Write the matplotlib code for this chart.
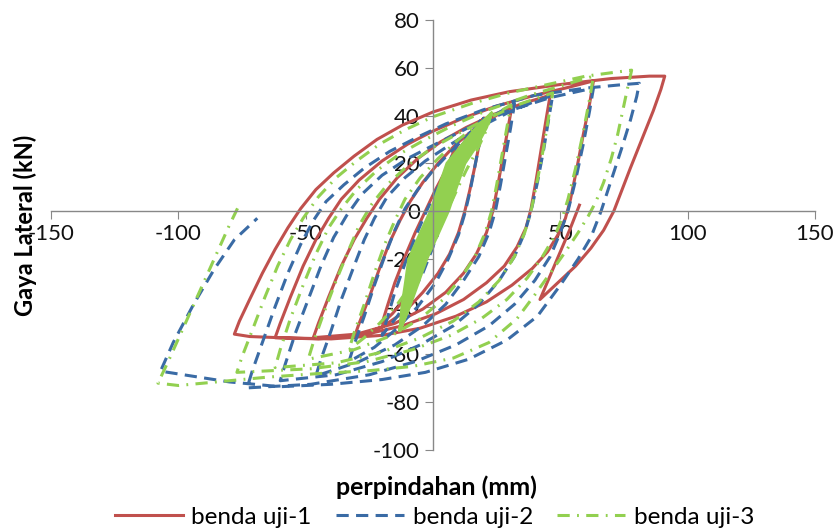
import matplotlib.pyplot as plt

# lateral load (kN) vs displacement (mm), three specimens
uji1 = [
    (0, 0), (-3, -10), (-6, -22), (-10, -36),
    (-8, -29), (-5, -18), (-2, -7), (1, 3), (4, 13), (7, 22), (10, 30),
    (8.5, 22), (6.5, 12), (4.5, 3), (3, -3), (0.5, -12), (-3, -21), (-7, -30), (-12, -38), (-16, -43), (-20, -47),
    (-18, -40), (-15, -30), (-11, -19), (-7, -9), (-3, 0), (1, 9), (6, 19), (11, 27), (16, 34), (20, 39),
    (18.5, 30), (16.5, 19), (14.5, 9), (12.5, 0), (10, -9), (6.5, -18), (2, -26), (-4, -34), (-11, -42), (-20, -48.5), (-31, -53),
    (-29, -47), (-25, -36), (-21, -24), (-17, -13), (-13, -4), (-9, 4), (-4, 12), (2, 20), (9, 28), (17, 35), (24, 39.5), (31, 44),
    (29.5, 35), (27.5, 23), (25.5, 11), (23.5, 0), (21, -9), (17, -18), (12, -26), (5, -34), (-4, -41), (-15, -47), (-30, -51.5), (-47, -53),
    (-45, -47), (-41, -36), (-36, -23), (-31, -12), (-26, -3), (-21, 5), (-14, 14), (-6, 22), (3, 29), (13, 35), (24, 40.5), (35, 45), (46, 48.5),
    (44.5, 39), (42.5, 26), (40.5, 13), (38.5, 1), (36.5, -7), (33, -15), (28, -23), (21, -30), (12, -37), (1, -43), (-12, -48), (-28, -52), (-45, -53.5), (-62, -53),
    (-60, -47), (-56, -36), (-51, -23), (-46, -12), (-41, -3), (-36, 5), (-29, 13), (-20, 21), (-10, 28), (0, 33.5), (12, 39), (25, 44), (40, 48.5), (52, 51.5), (63, 54.5),
    (61.5, 45), (59, 32), (56.5, 18), (54, 5), (52, -3), (49, -10), (45, -17), (39, -24), (31, -31), (21, -38), (9, -44), (-5, -49), (-20, -52), (-40, -53.5), (-60, -53), (-72, -52.5), (-78, -51.5),
    (-76, -46), (-72, -37), (-67, -26), (-62, -16), (-57, -7), (-52, 1), (-46, 9), (-39, 16), (-31, 23), (-22, 30), (-12, 36), (0, 41.5), (15, 46.5), (30, 50), (50, 53), (70, 55.5), (85, 56.5), (91, 56.5),
    (89.5, 51), (86.5, 42), (82, 30), (77.5, 18), (73.5, 7), (71, 0), (67, -8), (62, -15.5), (56, -23), (49, -30), (42, -37),
    (46, -27), (50, -17), (54, -7), (57.5, 2.5),
]

uji2 = [
    (0, 0), (-3, -12), (-6, -25), (-10, -38),
    (-8, -30), (-5, -19), (-2, -8), (1, 3), (4, 13), (7, 22), (10, 30),
    (8.5, 21), (6.5, 11), (4.5, 2), (2.5, -6), (0, -15), (-4, -26), (-9, -36), (-14, -44), (-20, -52),
    (-18, -45), (-15, -34), (-11, -22), (-7, -11), (-3, -1), (1, 8), (6, 18), (11, 27), (16, 34), (20, 40),
    (18.5, 30), (16.5, 19), (14.5, 8), (12.5, -1), (10, -10), (6, -20), (1, -30), (-6, -40), (-14, -49), (-23, -57), (-33, -63),
    (-31, -56), (-27, -44), (-23, -31), (-19, -19), (-15, -8), (-11, 1), (-6, 9), (0, 17), (7, 25), (15, 33), (23, 39.5), (32, 45),
    (30.5, 35), (28.5, 23), (26.5, 11), (24.5, 0), (22, -9), (18, -19), (12, -29), (5, -39), (-4, -48), (-15, -56), (-29, -63), (-46, -69),
    (-44, -62), (-40, -50), (-36, -37), (-31, -23), (-27, -12), (-23, -3), (-18, 6), (-11, 14), (-3, 21), (7, 28), (18, 35), (30, 41.5), (39, 45.5), (47, 48.5),
    (45.5, 39), (43.5, 26), (41, 12), (38.5, 0), (36, -9), (32, -19), (26, -29), (18, -39), (8, -48), (-5, -56), (-20, -63), (-38, -68.5), (-60, -71),
    (-58, -64), (-54, -51), (-49, -37), (-44, -23), (-39, -11), (-34, -2), (-28, 7), (-20, 15), (-10, 22), (0, 27.5), (14, 35), (30, 42), (46, 47.5), (63, 51.5),
    (61.5, 42), (59, 28), (56, 13), (53, 0), (50, -9), (46, -19), (40, -29), (32, -39), (22, -48), (9, -56), (-7, -63), (-25, -68.5), (-48, -72.5), (-73, -74),
    (-71, -67), (-67, -55), (-62, -40), (-57, -26), (-52, -14), (-47, -4), (-42, 4), (-35, 11), (-27, 18), (-17, 25), (-6, 31), (5, 36.5), (20, 42.5), (40, 48.5), (60, 51.5), (75, 53), (81, 53.5),
    (80, 48), (77.5, 38), (74, 26), (70, 13), (66, 0), (62, -11), (57, -20), (50, -31), (41, -44), (29, -54), (14, -62), (-3, -67.5), (-20, -70.5), (-40, -72.5), (-60, -73.5), (-80, -71.5), (-95, -69), (-107, -67),
    (-102, -55), (-94, -39), (-86, -24.5), (-78, -12), (-69, -3),
]

# specimen 3, first the many small elastic cycles (they merge into a solid band)
uji3_small = [
    (0, 0), (-4, -15), (-9, -32), (-13, -50),
    (-12.2, -40), (-10.8, -30), (-9.5, -20), (-5.3, -10), (-1, 0), (2.3, 10), (5.5, 20), (11.6, 28), (17, 35), (23, 41),
    (21, 35), (17.5, 28), (12.5, 20), (9.2, 10), (6, 0), (1.8, -10), (-2.5, -20), (-5.8, -30), (-9.2, -40), (-13, -50),
    (-11.8, -40), (-10.2, -30), (-8.7, -20), (-4.5, -10), (-0.2, 0), (3.1, 10), (6.3, 20), (12.3, 28), (17.5, 35), (23, 41),
    (20.5, 35), (16.8, 28), (11.7, 20), (8.4, 10), (5.2, 0), (1, -10), (-3.3, -20), (-6.4, -30), (-9.6, -40), (-13, -50),
    (-11.5, -40), (-9.6, -30), (-7.8, -20), (-3.5, -10), (0.8, 0), (4, 10), (7.3, 20), (13.1, 28), (18, 35), (23, 41),
    (20, 35), (16, 28), (10.8, 20), (7.5, 10), (4.3, 0), (0, -10), (-4.3, -20), (-7.1, -30), (-10, -40), (-13, -50),
    (-11.1, -40), (-8.9, -30), (-6.8, -20), (-2.6, -10), (1.7, 0), (4.9, 10), (8.2, 20), (13.8, 28), (18.5, 35), (23, 41),
    (19.5, 35), (15.3, 28), (9.8, 20), (6.6, 10), (3.3, 0), (-0.9, -10), (-5.2, -20), (-7.7, -30), (-10.3, -40), (-13, -50),
    (-10.7, -40), (-8.3, -30), (-6, -20), (-1.8, -10), (2.5, 0), (5.8, 10), (9, 20), (14.6, 28), (19, 35), (23, 41),
]

# specimen 3, the growing cycles that follow
uji3 = [
    (23, 41), (21, 34), (17.5, 26), (13, 17), (9, 8), (5.5, 0), (1.5, -10), (-3, -20), (-8, -30), (-14, -39), (-21, -47), (-27, -53), (-33, -58),
    (-31, -51), (-27, -39), (-23, -26), (-19, -14), (-15, -4), (-11, 5), (-5, 14), (2, 22), (10, 30), (18, 36.5), (25, 41), (30.6, 44.4),
    (29, 35), (27, 23), (25, 11), (23, 0), (20.5, -9), (16.5, -19), (11, -28), (4, -37), (-5, -45), (-16, -52), (-31, -58), (-49, -62),
    (-47, -55), (-43, -43), (-38, -29), (-33, -16), (-29, -6), (-24, 3), (-18, 11), (-10, 19), (-1, 26), (9, 32), (20, 38), (32, 44), (40, 47), (47, 49.5),
    (45.5, 40), (43.5, 27), (41, 13), (38.5, 0), (36, -9), (32, -19), (26, -29), (18, -38), (8, -46), (-5, -53), (-20, -59), (-38, -63.5), (-62, -65.5),
    (-60, -58), (-56, -45), (-51, -31), (-46, -18), (-41, -7), (-36, 1), (-30, 9), (-22, 17), (-13, 24), (-3, 30), (8, 36), (22, 42.5), (38, 48.5), (52, 53), (63, 56.5),
    (61.5, 47), (59, 33), (56, 18), (53, 5), (51, -2), (48, -10), (43, -19), (37, -28), (29, -37), (19, -45), (7, -52), (-8, -58), (-26, -63), (-48, -66), (-77, -67.5),
    (-75, -61), (-71, -50), (-66, -36), (-61, -23), (-56, -12), (-51, -3), (-45, 6), (-38, 14), (-30, 21), (-21, 28), (-11, 34), (0, 39.5), (15, 45), (30, 49.5), (45, 53), (60, 56.5), (72, 58.2), (78, 59),
    (76.5, 52), (74.5, 42), (72.5, 32), (70, 22), (67, 12), (64, 4), (61, -2), (57, -9), (52, -17), (46, -26), (40, -35), (33, -45), (22, -55), (8, -61.5), (-8, -65), (-25, -66.8), (-45, -68), (-65, -69.5), (-85, -71.5), (-100, -73), (-108, -72),
    (-104, -63), (-96, -44), (-88, -25), (-80, -6), (-76.6, 1.5),
]

labels = ['benda uji-1', 'benda uji-2', 'benda uji-3']
xticks = [-150, -100, -50, 0, 50, 100, 150]
yticks = [-100, -80, -60, -40, -20, 0, 20, 40, 60, 80]

plt.rcParams['font.family'] = ['Lato', 'DejaVu Sans']
plt.rcParams['axes.unicode_minus'] = False

fig = plt.figure(figsize=(8.39, 5.29), dpi=100)
ax = fig.add_axes([51 / 839, 1 - 450 / 529, 764 / 839, 430 / 529])

x1, y1 = zip(*uji1)
x2, y2 = zip(*uji2)
x3s, y3s = zip(*uji3_small)
x3, y3 = zip(*uji3)
ax.plot(x1, y1, color='#C0504D', lw=2.2, solid_joinstyle='round', label=labels[0])
ax.plot(x2, y2, color='#3A6BA5', lw=2.2, dashes=(4, 2.4), label=labels[1])
# the dense small cycles read as a solid band in the original
ax.plot(x3s, y3s, color='#92D050', lw=2.2)
ax.plot(x3, y3, color='#92D050', lw=2.2, dashes=(4, 2.4, 0.6, 2.4), label=labels[2])

ax.set_xlim(-150, 150)
ax.set_ylim(-100, 80)
ax.set_xticks(xticks)
ax.set_yticks(yticks)
ax.spines['left'].set_position(('data', 0))
ax.spines['bottom'].set_position(('data', 0))
ax.spines['top'].set_visible(False)
ax.spines['right'].set_visible(False)
for s in ['left', 'bottom']:
    ax.spines[s].set_color('#888888')
    ax.spines[s].set_linewidth(1)
ax.tick_params(direction='out', length=6, color='#888888', labelsize=16, labelcolor='#111111')

fig.text(436 / 839, 1 - 487 / 529, 'perpindahan (mm)', ha='center', va='center',
         fontsize=18, fontweight='bold')
fig.text(25 / 839, 1 - 225 / 529, 'Gaya Lateral (kN)', ha='center', va='center',
         rotation=90, fontsize=17, fontweight='bold')

fig.legend(loc='center', bbox_to_anchor=(0.518, 1 - 517 / 529), ncol=3, frameon=False,
           fontsize=17.5, handlelength=2.8, handletextpad=0.35, columnspacing=1.0)

fig.savefig('out.png', dpi=100)
